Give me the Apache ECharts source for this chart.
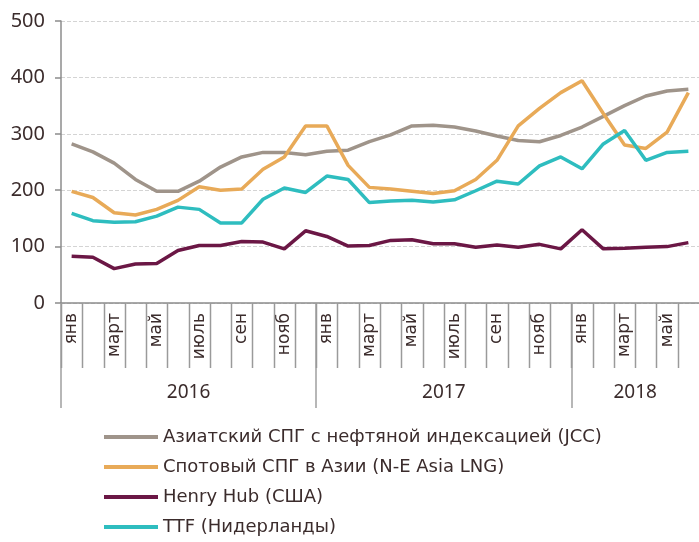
<!DOCTYPE html>
<html>
<head>
<meta charset="utf-8">
<script src="https://cdn.jsdelivr.net/npm/echarts@6/dist/echarts.min.js"></script>
<style>
  html, body { margin: 0; padding: 0; background: #fff; }
  #main { width: 699px; height: 542px; }
</style>
</head>
<body>
<div id="main"></div>
<script>
// месяцы янв 2016 - июнь 2018
var months = ['янв','фев','март','апр','май','июнь','июль','авг','сен','окт','нояб','дек',
              'янв','фев','март','апр','май','июнь','июль','авг','сен','окт','нояб','дек',
              'янв','фев','март','апр','май','июнь'];
var years = ['2016', '2017', '2018'];
var yearMid = [6, 18, 27];
var yearEdge = [0, 12, 24];

var jcc = [282, 268, 248, 219, 198, 198, 216, 241, 259, 267, 267, 263,
           269, 271, 286, 298, 314, 315, 312, 305, 296, 288, 286, 297,
           312, 331, 350, 367, 376, 379];
var spotAsia = [198, 187, 160, 156, 166, 182, 206, 200, 202, 237, 259, 314,
                314, 244, 205, 202, 198, 194, 199, 219, 253, 314, 345, 373,
                394, 336, 280, 274, 303, 373];
var henryHub = [83, 81, 61, 69, 70, 93, 102, 102, 109, 108, 96, 128,
                118, 101, 102, 111, 112, 105, 105, 99, 103, 99, 104, 96,
                130, 96, 97, 99, 100, 107];
var ttf = [159, 146, 143, 144, 154, 170, 166, 142, 142, 184, 204, 196,
           225, 219, 178, 181, 182, 179, 183, 199, 216, 211, 243, 259,
           238, 282, 306, 253, 267, 269];

var names = ['Азиатский СПГ с нефтяной индексацией (JCC)', 'Спотовый СПГ в Азии (N-E Asia LNG)',
             'Henry Hub (США)', 'TTF (Нидерланды)'];
var colors = ['#9f948a', '#e8aa58', '#6b1745', '#2ebdbf'];

var txt = '#3b2c2c';
var tickStyle = { color: '#a0a0a0', width: 1.5 };
var chart = echarts.init(document.getElementById('main'));

function line(i, data) {
    return {
        name: names[i],
        type: 'line',
        data: data,
        symbol: 'none',
        lineStyle: { width: 3.5, color: colors[i] },
        itemStyle: { color: colors[i] }
    };
}

// разделители месяцев под осью
var monthTicks = {
    type: 'custom',
    silent: true,
    clip: false,
    z: 1,
    data: months.map(function (m, i) { return [i, 0]; }),
    renderItem: function (params, api) {
        var c = api.coord([api.value(0), 0]);
        var w = api.size([1, 0])[0];
        var x = Math.round(c[0] - w / 2) + 0.5;
        return {
            type: 'line',
            shape: { x1: x, y1: c[1], x2: x, y2: c[1] + 65 },
            style: { stroke: '#9a9a9a', lineWidth: 1.5 }
        };
    }
};

chart.setOption({
    animation: false,
    grid: { left: 61, right: 0, top: 21, bottom: 239 },
    legend: {
        orient: 'vertical',
        left: 104,
        top: 427,
        height: 115,
        padding: 0,
        icon: 'rect',
        itemWidth: 54,
        itemHeight: 4,
        itemGap: 10,
        textStyle: { color: txt, fontSize: 18, fontFamily: 'DejaVu Sans', lineHeight: 20 },
        data: names
    },
    xAxis: [{
        type: 'category',
        data: months,
        boundaryGap: true,
        axisLine: { lineStyle: { color: '#8c8c8c', width: 1.5 } },
        axisTick: { show: false },
        axisLabel: { interval: 1, rotate: 90, margin: 10, color: txt, fontSize: 17, fontFamily: 'DejaVu Sans' }
    }, {
        type: 'value',
        min: 0,
        max: months.length,
        position: 'bottom',
        axisLine: { show: false },
        splitLine: { show: false },
        axisTick: { show: true, customValues: yearEdge, length: 105, lineStyle: tickStyle },
        axisLabel: {
            customValues: yearMid,
            margin: 80,
            color: txt,
            fontSize: 19,
            fontFamily: 'Noto Sans',
            formatter: function (v) { return years[yearMid.indexOf(v)]; }
        }
    }],
    yAxis: {
        type: 'value',
        min: 0,
        max: 500,
        interval: 100,
        axisLine: { show: true, lineStyle: { color: '#8c8c8c', width: 1.5 } },
        axisTick: { show: true, length: 6, lineStyle: { color: '#8c8c8c', width: 1.5 } },
        axisLabel: { margin: 16, color: txt, fontSize: 20, fontFamily: 'Noto Sans' },
        splitLine: { lineStyle: { type: 'dashed', color: '#d4d4d4' } }
    },
    series: [
        line(0, jcc),
        line(1, spotAsia),
        line(2, henryHub),
        line(3, ttf),
        monthTicks
    ]
});
</script>
</body>
</html>
